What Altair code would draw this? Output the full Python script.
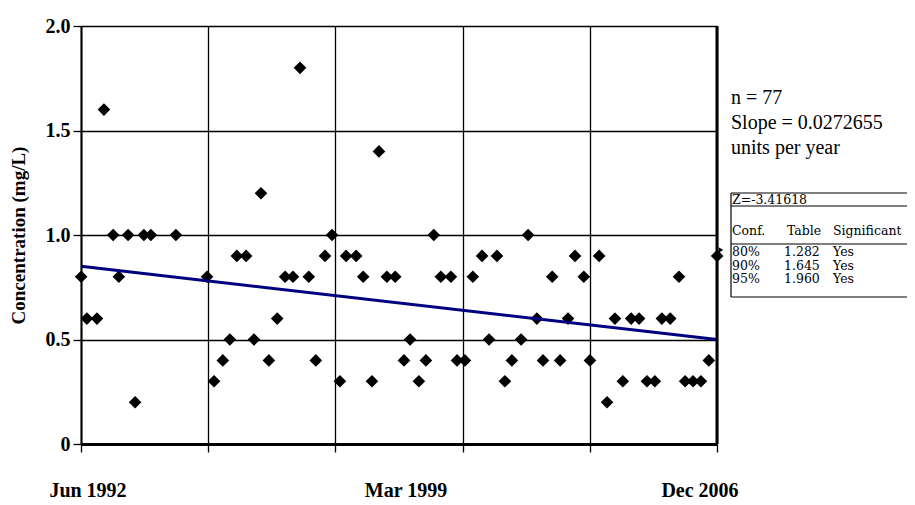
import altair as alt
import pandas as pd

# ---- data ----
years = [1992.42, 1992.55, 1992.78, 1992.94, 1993.15, 1993.28, 1993.49, 1993.65, 1993.85, 1994.01,
         1994.58, 1995.29, 1995.45, 1995.65, 1995.81, 1995.97, 1996.18, 1996.36, 1996.52, 1996.70,
         1996.89, 1997.07, 1997.25, 1997.41, 1997.61, 1997.77, 1997.98, 1998.14, 1998.32, 1998.46,
         1998.69, 1998.85, 1999.05, 1999.21, 1999.39, 1999.58, 1999.78, 1999.92, 2000.12, 2000.28,
         2000.46, 2000.62, 2000.85, 2000.99, 2001.17, 2001.35, 2001.56, 2001.72, 2001.90, 2002.08,
         2002.24, 2002.45, 2002.61, 2002.81, 2002.95, 2003.16, 2003.34, 2003.52, 2003.68, 2003.88,
         2004.02, 2004.23, 2004.41, 2004.59, 2004.77, 2004.96, 2005.14, 2005.32, 2005.50, 2005.66,
         2005.85, 2006.05, 2006.19, 2006.37, 2006.55, 2006.73, 2006.92]
conc = [0.8, 0.6, 0.6, 1.6, 1.0, 0.8, 1.0, 0.2, 1.0, 1.0,
        1.0, 0.8, 0.3, 0.4, 0.5, 0.9, 0.9, 0.5, 1.2, 0.4,
        0.6, 0.8, 0.8, 1.8, 0.8, 0.4, 0.9, 1.0, 0.3, 0.9,
        0.9, 0.8, 0.3, 1.4, 0.8, 0.8, 0.4, 0.5, 0.3, 0.4,
        1.0, 0.8, 0.8, 0.4, 0.4, 0.8, 0.9, 0.5, 0.9, 0.3,
        0.4, 0.5, 1.0, 0.6, 0.4, 0.8, 0.4, 0.6, 0.9, 0.8,
        0.4, 0.9, 0.2, 0.6, 0.3, 0.6, 0.6, 0.3, 0.3, 0.6,
        0.6, 0.8, 0.3, 0.3, 0.3, 0.4, 0.9]
trend_years = [1992.4167, 2006.9167]
trend_vals = [0.85, 0.50]
x_grid = [1992.4167, 1995.3167, 1998.2167, 2001.1167, 2004.0167, 2006.9167]
y_ticks = [0, 0.5, 1.0, 1.5, 2.0]
x_labels = ["Jun 1992", "Mar 1999", "Dec 2006"]
stats_lines = ["n = 77", "Slope = 0.0272655", "units per year"]
z_text = "Z=-3.41618"
tbl_headers = ["Conf.", "Table", "Significant"]
tbl_conf = ["80%", "90%", "95%"]
tbl_table = ["1.282", "1.645", "1.960"]
tbl_sig = ["Yes", "Yes", "Yes"]

W, H = 636, 418
SERIF = "Liberation Serif"
TFONT = "DejaVu Serif"

pts = pd.DataFrame({"year": years, "conc": conc})
trend = pd.DataFrame({"year": trend_years, "conc": trend_vals})
one = pd.DataFrame({"d": [0]})

xscale = alt.Scale(domain=[x_grid[0], x_grid[-1]], nice=False, zero=False)
yscale = alt.Scale(domain=[0, 2], nice=False)

xaxis = alt.Axis(values=x_grid, labels=False, title=None, tickSize=8, tickColor="black",
                 tickWidth=1.3, domainColor="black", domainWidth=3, grid=True,
                 gridColor="black", gridWidth=1.3, gridOpacity=1)
yaxis = alt.Axis(values=y_ticks, labelExpr="datum.value == 0 ? '0' : format(datum.value, '.1f')",
                 labelFont=SERIF, labelFontWeight="bold", labelFontSize=20, labelColor="black",
                 labelPadding=3, tickSize=8, tickColor="black", tickWidth=1.3,
                 domainColor="black", domainWidth=2, grid=True, gridColor="black",
                 gridWidth=1.3, gridOpacity=1,
                 title="Concentration (mg/L)", titleFont=SERIF, titleFontWeight="bold",
                 titleFontSize=19, titleColor="black", titleX=-63, titleY=H / 2,
                 titleBaseline="middle")

points = alt.Chart(pts).mark_point(shape="diamond", filled=True, color="black",
                                   size=160, opacity=1).encode(
    x=alt.X("year:Q", scale=xscale, axis=xaxis),
    y=alt.Y("conc:Q", scale=yscale, axis=yaxis),
)

line = alt.Chart(trend).mark_line(color="#000080", strokeWidth=3).encode(
    x=alt.X("year:Q", scale=xscale),
    y=alt.Y("conc:Q", scale=yscale),
)

right_border = alt.Chart(one).mark_rule(color="black", strokeWidth=3).encode(
    x=alt.value(W), y=alt.value(0), y2=alt.value(H))


def txt(text, x, y, size, weight="normal", font=SERIF, align="left", baseline="middle"):
    return alt.Chart(pd.DataFrame({"t": [text]})).mark_text(
        font=font, fontSize=size, fontWeight=weight, color="black",
        align=align, baseline=baseline).encode(
        x=alt.value(x), y=alt.value(y), text="t:N")


def rule(x1, x2, y1, y2, w=1.2):
    return alt.Chart(one).mark_rule(color="black", strokeWidth=w).encode(
        x=alt.value(x1), x2=alt.value(x2), y=alt.value(y1), y2=alt.value(y2))


layers = [points, line, right_border]

# x labels below axis
for lab, cx in zip(x_labels, [7, 325, 619]):
    layers.append(txt(lab, cx, 465, 20, weight="bold", align="center"))

# stats text
for i, s in enumerate(stats_lines):
    layers.append(txt(s, 650, 72 + 25 * i, 20))

# table
TX = 650
layers += [
    rule(TX, 830, 167, 167), rule(TX, 830, 180, 180),
    rule(TX, 830, 218, 218), rule(TX, 830, 271, 271),
    rule(TX, TX, 167, 271),
]
layers.append(txt(z_text, TX + 1, 174, 12.5, font=TFONT))
for h, cx in zip(tbl_headers, [TX + 1, TX + 56, TX + 102]):
    layers.append(txt(h, cx, 205, 12.5, font=TFONT))
for col, cx in zip([tbl_conf, tbl_table, tbl_sig], [TX + 1, TX + 53, TX + 102]):
    for j, v in enumerate(col):
        layers.append(txt(v, cx, 226 + 13.5 * j, 12.5, font=TFONT))
layers.append(alt.Chart(one).mark_point(shape="triangle-right", filled=True, color="black",
                                        size=30, opacity=1).encode(
    x=alt.value(TX - 10), y=alt.value(224)))

chart = alt.layer(*layers).properties(
    width=W, height=H,
    autosize=alt.AutoSizeParams(type="none"),
    padding={"left": 73, "top": 18, "right": 190, "bottom": 59},
).configure_view(stroke="black", strokeWidth=1.5).configure(background="white")

chart.save("out.html", embed_options={"renderer": "svg", "actions": False})
